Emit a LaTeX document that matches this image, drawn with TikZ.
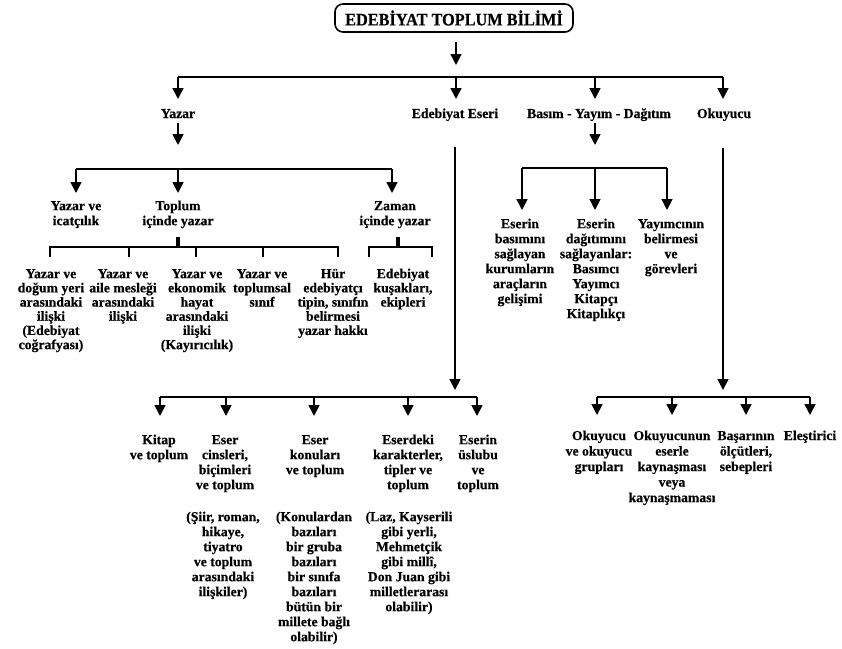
\documentclass[tikz,border=0pt]{standalone}
\usepackage{fontspec}
\setmainfont{Liberation Serif}[BoldFeatures={FakeBold=0.45}]
\newfontfamily\titlefont{Liberation Serif}[FakeStretch=0.93,BoldFeatures={FakeBold=0.45}]
\usetikzlibrary{arrows.meta}
\begin{document}
\begin{tikzpicture}[x=1pt,y=-1pt,
  ln/.style={line width=1.7pt},
  arr/.style={ln, -{Triangle[width=11pt,length=11pt]}},
  tickline/.style={line width=2pt},
  stubline/.style={line width=4.5pt},
  lab/.style={font=\fontsize{13.7}{15}\selectfont\bfseries, inner sep=0pt, anchor=base},
  col/.style={font=\fontsize{13.7}{15}\selectfont\bfseries, inner sep=0pt, anchor=north, align=center},
  colA/.style={col, font=\fontsize{13.7}{14.2}\selectfont\bfseries},
  colC/.style={col, font=\fontsize{13.7}{15.5}\selectfont\bfseries},
  titlebox/.style={draw, line width=1.6pt, rounded corners=8pt, minimum width=238pt,
    minimum height=28pt, inner sep=0pt, font=\titlefont\fontsize{17.5}{20}\selectfont\bfseries}
]
\useasboundingbox (0,0) rectangle (842,648);

% title
\node[titlebox] (title) at (454,18) {EDEBİYAT TOPLUM BİLİMİ};
\coordinate (t0) at (456,42);
\coordinate (t1) at (456,65);
\draw[arr] (t0) -- (t1);

% top bus
\coordinate (bL) at (178,77);
\coordinate (bE) at (456,77);
\coordinate (bB) at (595,77);
\coordinate (bR) at (723,77);
\draw[ln] (bL) -- (bR);
\foreach \n/\x in {L/178,E/456,B/595,R/723}{
  \coordinate (e\n) at (\x,99);
  \draw[arr] (b\n) -- (e\n);
}

% level 1
\node[lab] (yazar) at (178,118) {Yazar};
\node[lab] (eser) at (455,118) {Edebiyat Eseri};
\node[lab] (basim) at (599,118) {Basım - Yayım - Dağıtım};
\node[lab] (okur) at (724,118) {Okuyucu};

% ---------------- Yazar branch
\coordinate (y0) at (178,123);
\coordinate (y1) at (178,145);
\draw[arr] (y0) -- (y1);
\coordinate (ybL) at (76,169);
\coordinate (ybM) at (178,169);
\coordinate (ybR) at (392,169);
\draw[ln] (ybL) -- (ybR);
\coordinate (yeL) at (76,193);
\coordinate (yeM) at (178,193);
\coordinate (yeR) at (392,193);
\draw[arr] (ybL) -- (yeL);
\draw[arr] (ybM) -- (yeM);
\draw[arr] (ybR) -- (yeR);

\node[col] (icat) at (76,199.5) {\strut Yazar ve\\icatçılık};
\node[col] (toplum) at (178,199.5) {\strut Toplum\\içinde yazar};
\node[col] (zaman) at (395,199.5) {\strut Zaman\\içinde yazar};

% Toplum bracket
\coordinate (ts0) at (178,237);
\coordinate (ts1) at (178,247);
\draw[stubline] (ts0) -- (ts1);
\coordinate (tbL) at (50,247);
\coordinate (tbR) at (338,247);
\draw[ln] (tbL) -- (tbR);
\foreach \x in {50,129,196,263,338}{
  \draw[tickline] (\x,246) -- (\x,257);
}
% Zaman bracket
\coordinate (zs0) at (398,237);
\coordinate (zs1) at (398,247);
\draw[stubline] (zs0) -- (zs1);
\coordinate (zbL) at (369,247);
\coordinate (zbR) at (432,247);
\draw[ln] (zbL) -- (zbR);
\draw[tickline] (369,246) -- (369,257);
\draw[tickline] (432,246) -- (432,257);

\node[colA] (c1) at (51,268) {\strut Yazar ve\\doğum yeri\\arasındaki\\ilişki\\(Edebiyat\\coğrafyası)};
\node[colA] (c2) at (123,268) {\strut Yazar ve\\aile mesleği\\arasındaki\\ilişki};
\node[colA] (c3) at (197,268) {\strut Yazar ve\\ekonomik\\hayat\\arasındaki\\ilişki\\(Kayırıcılık)};
\node[colA] (c4) at (262,268) {\strut Yazar ve\\toplumsal\\sınıf};
\node[colA] (c5) at (333,268) {\strut Hür\\edebiyatçı\\tipin, sınıfın\\belirmesi\\yazar hakkı};
\node[colA] (c6) at (403,268) {\strut Edebiyat\\kuşakları,\\ekipleri};

% ---------------- Edebiyat Eseri branch
\coordinate (ev0) at (455,147);
\coordinate (ev1) at (455,390);
\draw[arr] (ev0) -- (ev1);
\coordinate (ebL) at (160,397);
\coordinate (ebR) at (477,397);
\draw[ln] (ebL) -- (ebR);
\foreach \x in {160,226,314,408,477}{
  \draw[arr] (\x,397) -- (\x,416);
}
\node[col] (d1) at (159,433.5) {\strut Kitap\\ve toplum};
\node[col] (d2) at (225,433.5) {\strut Eser\\cinsleri,\\biçimleri\\ve toplum};
\node[col] (d3) at (315,433.5) {\strut Eser\\konuları\\ve toplum};
\node[col] (d4) at (408,433.5) {\strut Eserdeki\\karakterler,\\tipler ve\\toplum};
\node[col] (d5) at (478,433.5) {\strut Eserin\\üslubu\\ve\\toplum};

\node[col] (p2) at (223,510.5) {\strut (Şiir, roman,\\hikaye,\\tiyatro\\ve toplum\\arasındaki\\ilişkiler)};
\node[col] (p3) at (314,510.5) {\strut (Konulardan\\bazıları\\bir gruba\\bazıları\\bir sınıfa\\bazıları\\bütün bir\\millete bağlı\\olabilir)};
\node[col] (p4) at (409,510.5) {\strut (Laz, Kayserili\\gibi yerli,\\Mehmetçik\\gibi millî,\\Don Juan gibi\\milletlerarası\\olabilir)};

% ---------------- Basım branch
\coordinate (bv0) at (595,123);
\coordinate (bv1) at (595,145);
\draw[arr] (bv0) -- (bv1);
\coordinate (bbL) at (522,168);
\coordinate (bbR) at (667,168);
\draw[ln] (bbL) -- (bbR);
\foreach \x in {522,595,667}{
  \draw[arr] (\x,168) -- (\x,210);
}
\node[col] (b1) at (520,217.5) {\strut Eserin\\basımını\\sağlayan\\kurumların\\araçların\\gelişimi};
\node[col] (b2) at (596,217.5) {\strut Eserin\\dağıtımını\\sağlayanlar:\\Basımcı\\Yayımcı\\Kitapçı\\Kitaplıkçı};
\node[col] (b3) at (671,217.5) {\strut Yayımcının\\belirmesi\\ve\\görevleri};

% ---------------- Okuyucu branch
\coordinate (ov0) at (723,148);
\coordinate (ov1) at (723,390);
\draw[arr] (ov0) -- (ov1);
\coordinate (obL) at (597,397);
\coordinate (obR) at (810,397);
\draw[ln] (obL) -- (obR);
\foreach \x in {597,672,746,810}{
  \draw[arr] (\x,397) -- (\x,415);
}
\node[colC] (o1) at (599,429) {\strut Okuyucu\\ve okuyucu\\grupları};
\node[colC] (o2) at (672,429) {\strut Okuyucunun\\eserle\\kaynaşması\\veya\\kaynaşmaması};
\node[colC] (o3) at (746,429) {\strut Başarının\\ölçütleri,\\sebepleri};
\node[colC] (o4) at (810,429) {\strut Eleştirici};
\end{tikzpicture}
\end{document}
